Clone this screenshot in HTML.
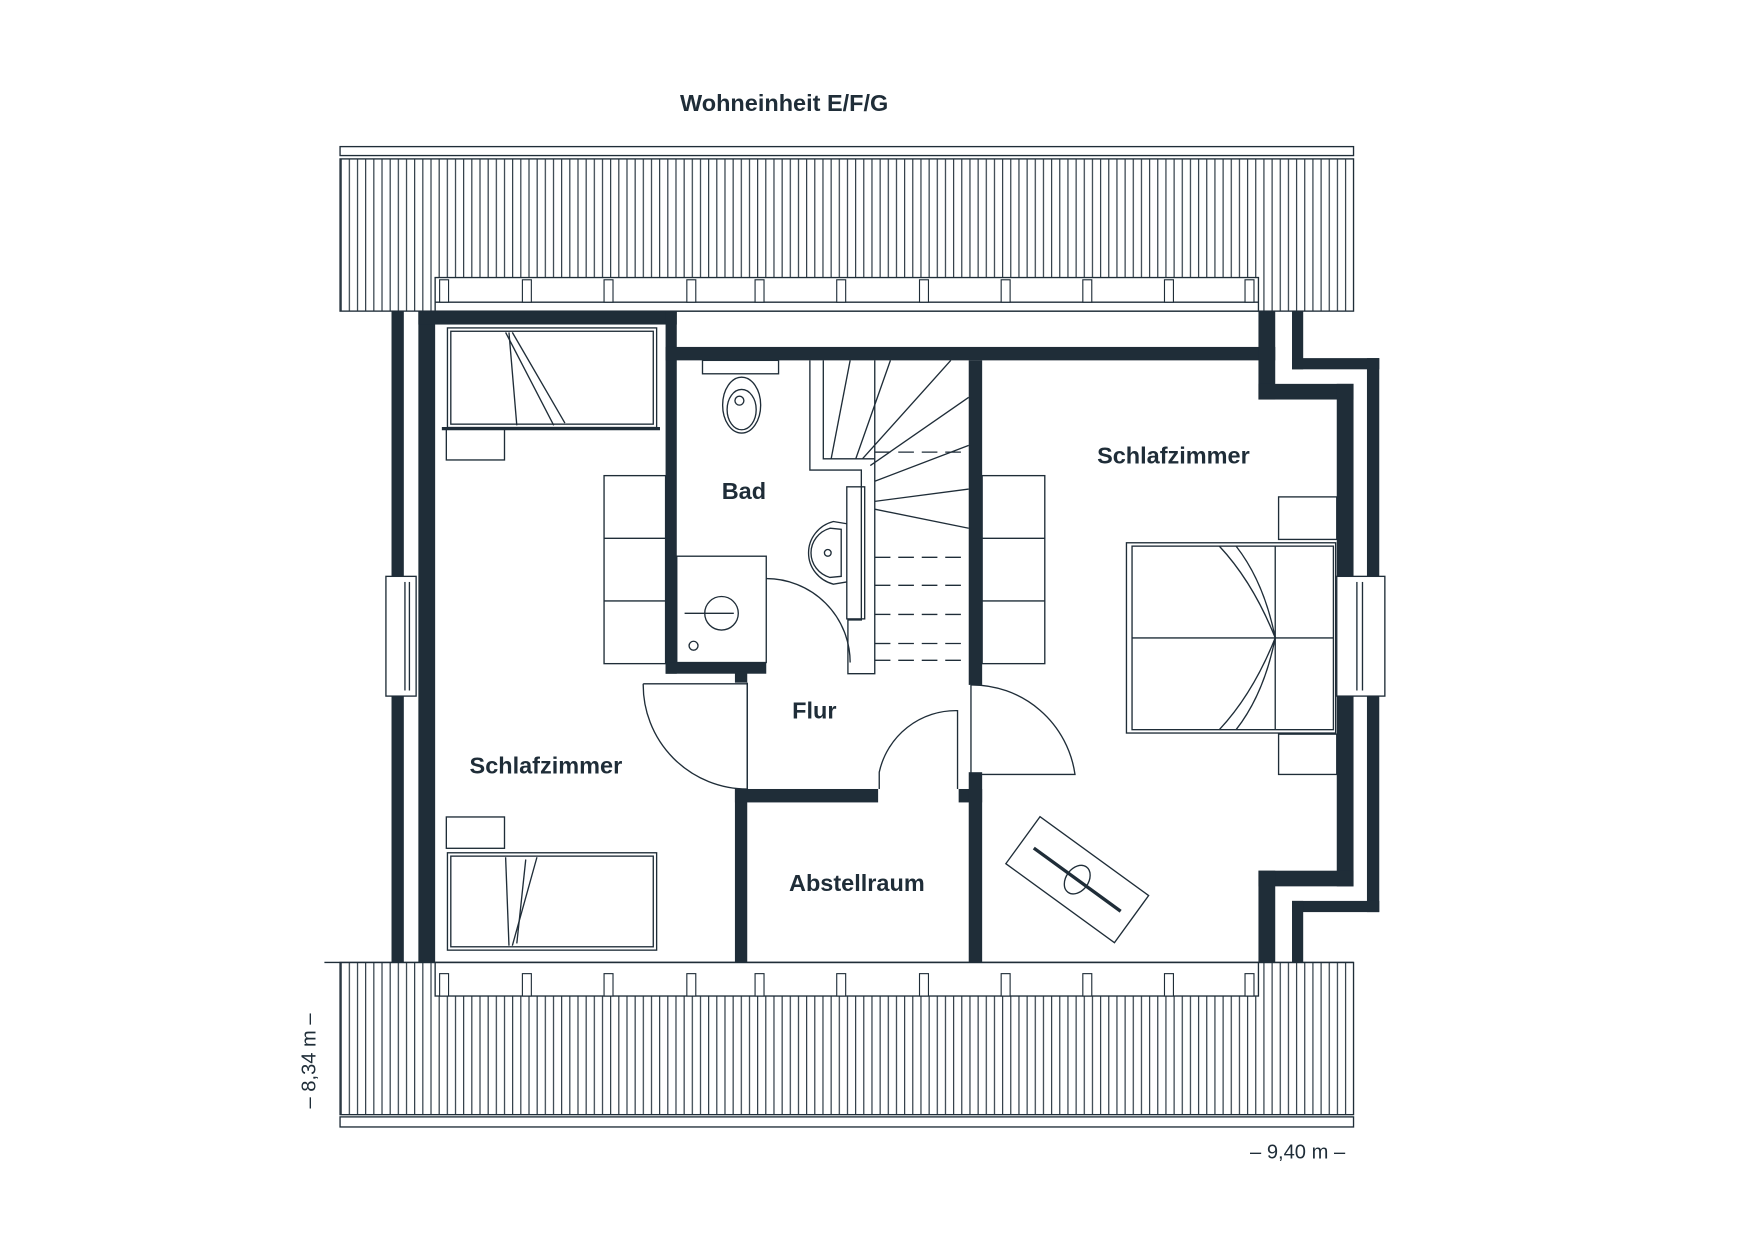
<!DOCTYPE html>
<html><head><meta charset="utf-8"><style>html,body{margin:0;padding:0;background:#fff}svg{display:block}text{font-family:"Liberation Sans",sans-serif;fill:#1f2d38}</style></head>
<body>
<svg width="1754" height="1240" viewBox="0 0 1568 1108" preserveAspectRatio="none" xmlns="http://www.w3.org/2000/svg">
<defs>
<pattern id="h" width="7.3" height="10" patternUnits="userSpaceOnUse" x="304"><line x1="1" y1="0" x2="1" y2="10" stroke="#1f2d38" stroke-width="1"/></pattern>
</defs>
<rect width="1568" height="1108" fill="#fff"/>
<text x="701" y="99" font-size="21" font-weight="bold" text-anchor="middle">Wohneinheit E/F/G</text>
<g stroke="#1f2d38" fill="none" stroke-width="1.2">
<rect x="304" y="131" width="906" height="8"/>
<rect x="304" y="142" width="906" height="136" fill="url(#h)"/>
<rect x="389" y="248" width="736" height="30" fill="#fff"/>
<line x1="389" y1="270" x2="1125" y2="270"/>
<rect x="304" y="860" width="906" height="136" fill="url(#h)"/>
<rect x="304" y="998" width="906" height="9"/>
<rect x="389" y="860" width="736" height="30" fill="#fff"/>
<line x1="290" y1="860" x2="1210" y2="860"/>
</g>
<g fill="#fff" stroke="#1f2d38" stroke-width="1">
<rect x="393" y="250" width="8" height="20"/><rect x="467" y="250" width="8" height="20"/><rect x="540" y="250" width="8" height="20"/><rect x="614" y="250" width="8" height="20"/><rect x="675" y="250" width="8" height="20"/><rect x="748" y="250" width="8" height="20"/><rect x="822" y="250" width="8" height="20"/><rect x="895" y="250" width="8" height="20"/><rect x="968" y="250" width="8" height="20"/><rect x="1041" y="250" width="8" height="20"/><rect x="1113" y="250" width="8" height="20"/>
<rect x="393" y="870" width="8" height="20"/><rect x="467" y="870" width="8" height="20"/><rect x="540" y="870" width="8" height="20"/><rect x="614" y="870" width="8" height="20"/><rect x="675" y="870" width="8" height="20"/><rect x="748" y="870" width="8" height="20"/><rect x="822" y="870" width="8" height="20"/><rect x="895" y="870" width="8" height="20"/><rect x="968" y="870" width="8" height="20"/><rect x="1041" y="870" width="8" height="20"/><rect x="1113" y="870" width="8" height="20"/>
</g>
<g fill="#1f2d38">
<rect x="350" y="278" width="11" height="237"/><rect x="350" y="622" width="11" height="238"/>
<rect x="374" y="278" width="15" height="582"/>
<rect x="374" y="278" width="231" height="12"/>
<rect x="595" y="278" width="10" height="324"/>
<rect x="595" y="310" width="545" height="12"/>
<rect x="595" y="592" width="90" height="10"/>
<rect x="657" y="600" width="11" height="10"/>
<rect x="657" y="705" width="11" height="155"/>
<rect x="657" y="705" width="128" height="12"/>
<rect x="857" y="705" width="21" height="12"/>
<rect x="866" y="322" width="12" height="290"/>
<rect x="866" y="690" width="12" height="170"/>
<rect x="1125" y="278" width="15" height="79"/>
<rect x="1125" y="343" width="85" height="14"/>
<rect x="1195" y="343" width="15" height="172"/>
<rect x="1155" y="278" width="10" height="52"/>
<rect x="1155" y="320" width="78" height="10"/>
<rect x="1222" y="320" width="11" height="195"/>
<rect x="1195" y="622" width="15" height="170"/>
<rect x="1125" y="778" width="85" height="14"/>
<rect x="1125" y="778" width="15" height="82"/>
<rect x="1222" y="622" width="11" height="193"/>
<rect x="1155" y="805" width="78" height="10"/>
<rect x="1155" y="805" width="10" height="55"/>
</g>
<g stroke="#1f2d38" fill="none" stroke-width="1.2">
<rect x="345" y="515" width="27" height="107"/><line x1="362" y1="520" x2="362" y2="617"/><line x1="366" y1="520" x2="366" y2="617"/>
<rect x="1195" y="515" width="43" height="107"/><line x1="1213" y1="520" x2="1213" y2="617"/><line x1="1218" y1="520" x2="1218" y2="617"/>
<rect x="400" y="293" width="187" height="89"/><rect x="403" y="296" width="181" height="83"/>
<line x1="455" y1="297" x2="462" y2="380"/><line x1="452" y1="297" x2="495" y2="380"/><line x1="458" y1="297" x2="505" y2="378"/>
<line x1="395" y1="383" x2="590" y2="383" stroke-width="3"/>
<rect x="399" y="383" width="52" height="28"/>
<rect x="399" y="730" width="52" height="28"/>
<rect x="400" y="762" width="187" height="87"/><rect x="403" y="765" width="181" height="81"/>
<line x1="452" y1="766" x2="455" y2="845"/><line x1="480" y1="766" x2="458" y2="845"/><line x1="470" y1="768" x2="462" y2="843"/>
<rect x="540" y="425" width="55" height="168"/><line x1="540" y1="481" x2="595" y2="481"/><line x1="540" y1="537" x2="595" y2="537"/>
<rect x="878" y="425" width="56" height="168"/><line x1="878" y1="481" x2="934" y2="481"/><line x1="878" y1="537" x2="934" y2="537"/>
<rect x="628" y="322" width="68" height="12"/>
<ellipse cx="663" cy="362" rx="17" ry="25"/><ellipse cx="663" cy="366" rx="13" ry="18"/><circle cx="661" cy="358" r="4"/>
<rect x="605" y="497" width="80" height="95"/>
<circle cx="645" cy="548" r="15"/><line x1="612" y1="548" x2="656" y2="548"/><circle cx="620" cy="577" r="4"/>
<path d="M757 468 L745 466 A 30 29 0 0 0 745 522 L757 520"/>
<path d="M752 473 L742 472 A 24 23 0 0 0 742 516 L752 515 Z"/>
<circle cx="740" cy="494" r="3"/>
<rect x="757" y="435" width="16" height="118"/>
<polyline points="724,322 724,420 770,420 770,554 758,554 758,602 782,602 782,420 782,322"/>
<polyline points="736,322 736,410 782,410"/>
<line x1="760" y1="322" x2="743" y2="410"/><line x1="796" y1="322" x2="765" y2="410"/><line x1="850" y1="322" x2="771" y2="410"/>
<line x1="866" y1="355" x2="778" y2="416"/><line x1="866" y1="398" x2="782" y2="430"/><line x1="866" y1="437" x2="782" y2="448"/>
<line x1="782" y1="455" x2="866" y2="472"/>
<g stroke-dasharray="14 7"><line x1="782" y1="404" x2="866" y2="404"/><line x1="782" y1="498" x2="866" y2="498"/><line x1="782" y1="523" x2="866" y2="523"/><line x1="782" y1="549" x2="866" y2="549"/><line x1="782" y1="575" x2="866" y2="575"/><line x1="782" y1="590" x2="866" y2="590"/></g>
<line x1="668" y1="610" x2="668" y2="705"/>
<path d="M575 611 L668 611 L668 705 A 93 93 0 0 1 575 611"/>
<path d="M685 517 A 75 75 0 0 1 760 592"/>
<path d="M786 705 L786 690 A 70 70 0 0 1 856 635 L856 705"/>
<path d="M868 612 L868 692 L961 692 A 93 93 0 0 0 868 612"/>
<rect x="1007" y="485" width="187" height="170"/><rect x="1012" y="488" width="180" height="164"/>
<line x1="1012" y1="570" x2="1192" y2="570"/><line x1="1140" y1="488" x2="1140" y2="652"/>
<path d="M1090 488 Q1120 520 1140 570 Q1120 620 1090 652"/><path d="M1105 488 Q1130 520 1140 570 Q1130 620 1105 652"/>
<rect x="1143" y="444" width="52" height="38"/><rect x="1143" y="656" width="52" height="36"/>
<g transform="translate(963,786) rotate(36)"><rect x="-60" y="-26" width="120" height="52"/><line x1="-48" y1="0" x2="48" y2="0" stroke-width="3"/><ellipse cx="0" cy="0" rx="10" ry="14"/></g>
</g>
<text x="665" y="446" font-size="21" font-weight="bold" text-anchor="middle">Bad</text>
<text x="728" y="642" font-size="21" font-weight="bold" text-anchor="middle">Flur</text>
<text x="766" y="796" font-size="21" font-weight="bold" text-anchor="middle">Abstellraum</text>
<text x="488" y="691" font-size="21" font-weight="bold" text-anchor="middle">Schlafzimmer</text>
<text x="1049" y="414" font-size="21" font-weight="bold" text-anchor="middle">Schlafzimmer</text>
<text x="1160" y="1035" font-size="18" text-anchor="middle">– 9,40 m –</text>
<text transform="translate(282,948) rotate(-90)" font-size="18" text-anchor="middle">– 8,34 m –</text>
</svg>
</body></html>
